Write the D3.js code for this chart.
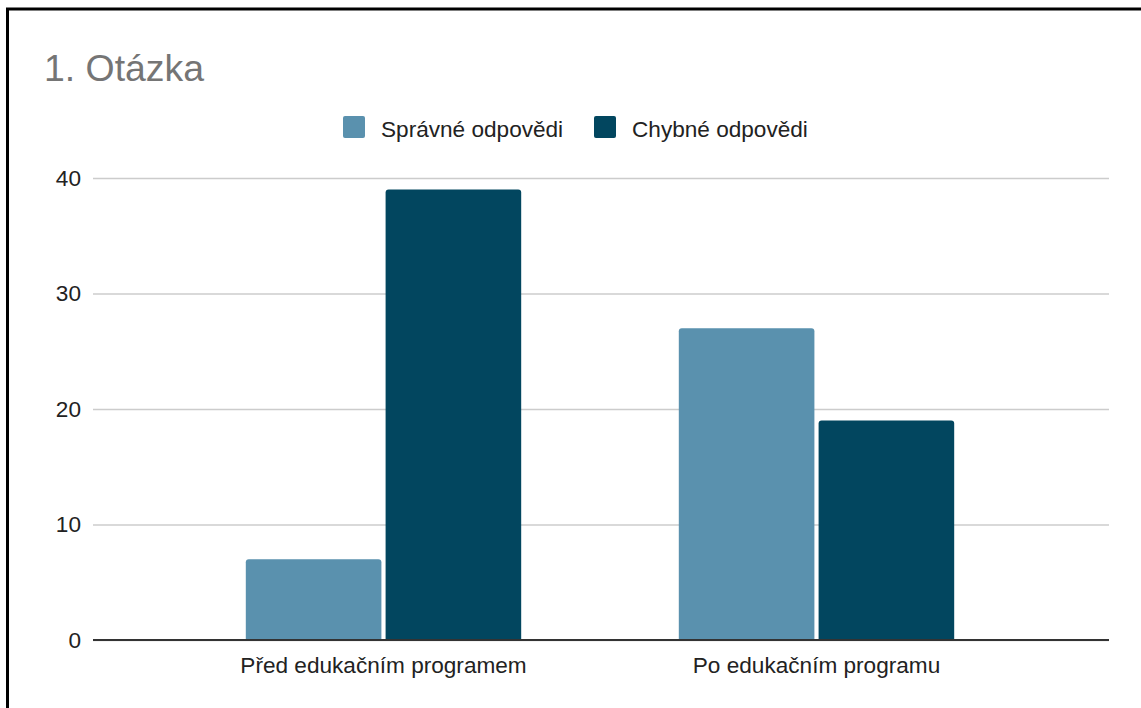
<!DOCTYPE html>
<html>
<head>
<meta charset="utf-8">
<script src="https://cdn.jsdelivr.net/npm/d3@7"></script>
<style>
  html, body { margin: 0; padding: 0; background: #fff; }
  svg { display: block; font-family: "Liberation Sans", Arial, sans-serif; }
</style>
</head>
<body>
<svg id="chart" width="1141" height="708"></svg>
<script>
// Answers to question 1, before and after the education programme
const categories = ["Před edukačním programem", "Po edukačním programu"];
const seriesNames = ["Správné odpovědi", "Chybné odpovědi"];
const correct = [7, 27];
const wrong = [39, 19];
const yTicks = [0, 10, 20, 30, 40];
const colors = ["#5a91ae", "#02465f"];

const seriesValues = [correct, wrong];
const rows = categories.map((c, i) => ({
  category: c,
  values: seriesNames.map((s, j) => ({ series: s, index: j, value: seriesValues[j][i] }))
}));

const W = 1141, H = 708;
const FONT = "'Liberation Sans', Arial, sans-serif";
const LABEL_SIZE = 22.6;
const svg = d3.select("#chart");

// frame: heavy left and top edge
svg.append("path")
  .attr("d", `M7.5,${H} L7.5,9 L${W},9`)
  .attr("fill", "none")
  .attr("stroke", "#000")
  .attr("stroke-width", 3);

// title
svg.append("text")
  .attr("x", 44)
  .attr("y", 81)
  .attr("font-size", 37.4)
  .attr("fill", "#757575")
  .text("1. Otázka");

const plot = { left: 93, right: 1109, top: 178, bottom: 640 };

const y = d3.scaleLinear().domain([0, 40]).range([plot.bottom, plot.top]);

const x0 = d3.scaleBand()
  .domain(categories)
  .range([167, 1033])
  .paddingInner(0.364)
  .paddingOuter(0.182);

const x1 = d3.scaleBand()
  .domain(seriesNames)
  .range([0, x0.bandwidth()])
  .paddingInner(0.03);

// gridlines and y tick labels
const yAxis = d3.axisLeft(y).tickValues(yTicks).tickSize(-(plot.right - plot.left)).tickPadding(12);
const gy = svg.append("g").attr("transform", `translate(${plot.left},0)`).call(yAxis);
gy.select(".domain").remove();
gy.selectAll(".tick line").attr("stroke", "#cccccc").attr("stroke-width", 1.3);
gy.selectAll(".tick text")
  .attr("font-size", LABEL_SIZE)
  .attr("fill", "#222")
  .attr("font-family", FONT);

// rounded-top bar path
function topRounded(x, yTop, w, h, r) {
  r = Math.min(r, h, w / 2);
  return `M${x},${yTop + h} L${x},${yTop + r} Q${x},${yTop} ${x + r},${yTop} ` +
         `L${x + w - r},${yTop} Q${x + w},${yTop} ${x + w},${yTop + r} L${x + w},${yTop + h} Z`;
}

const groups = svg.append("g").selectAll("g")
  .data(rows)
  .join("g")
  .attr("transform", d => `translate(${x0(d.category)},0)`);

groups.selectAll("path")
  .data(d => d.values)
  .join("path")
  .attr("fill", d => colors[d.index])
  .attr("d", d => topRounded(x1(d.series), y(d.value), x1.bandwidth(), y(0) - y(d.value), 3));

// baseline
svg.append("line")
  .attr("x1", plot.left).attr("x2", plot.right)
  .attr("y1", y(0)).attr("y2", y(0))
  .attr("stroke", "#333").attr("stroke-width", 2);

// category labels
const xAxis = d3.axisBottom(x0).tickSize(0).tickPadding(17);
const gx = svg.append("g").attr("transform", `translate(0,${plot.bottom})`).call(xAxis);
gx.select(".domain").remove();
gx.selectAll(".tick text")
  .attr("font-size", LABEL_SIZE)
  .attr("fill", "#222")
  .attr("font-family", FONT);

// legend
const legendItems = [
  { name: seriesNames[0], sx: 343, tx: 381 },
  { name: seriesNames[1], sx: 594, tx: 632 }
];
const legend = svg.append("g");
legend.selectAll("rect")
  .data(legendItems)
  .join("rect")
  .attr("x", d => d.sx).attr("y", 116)
  .attr("width", 22).attr("height", 22)
  .attr("rx", 2)
  .attr("fill", (d, i) => colors[i]);
legend.selectAll("text")
  .data(legendItems)
  .join("text")
  .attr("x", d => d.tx).attr("y", 137)
  .attr("font-size", LABEL_SIZE)
  .attr("fill", "#222")
  .text(d => d.name);
</script>
</body>
</html>
